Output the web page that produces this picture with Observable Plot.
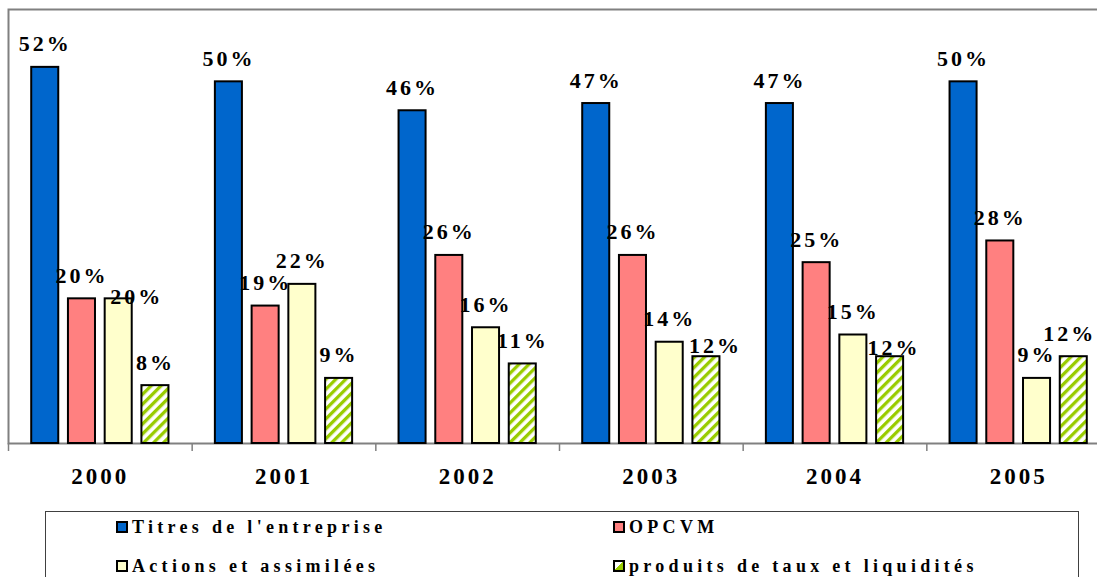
<!DOCTYPE html>
<html><head><meta charset="utf-8">
<script src="https://cdn.jsdelivr.net/npm/d3@7"></script>
<script src="https://cdn.jsdelivr.net/npm/@observablehq/plot@0.6"></script>
<style>
html,body{margin:0;padding:0;background:#fff;overflow:hidden;width:1097px;height:577px}
#chart{width:1097px;overflow:hidden}
#chart svg{display:block;max-width:none !important}
#chart svg text{letter-spacing:3px}
#legend{position:relative;margin-left:45px;margin-top:6px;width:1034px;height:80px;border:1px solid #404040;box-sizing:border-box;background:#fff}
.item{position:absolute;display:flex;align-items:center;height:20px;font-family:"Liberation Serif","Times New Roman",serif;font-weight:bold;font-size:18px;letter-spacing:4.3px;white-space:nowrap;color:#000}
.sw{width:12px;height:12px;box-sizing:border-box;border:2px solid #000;margin-right:4px;flex:none}
</style></head><body>
<div id="chart"></div>
<div id="legend"></div>
<script>
const years = ["2000", "2001", "2002", "2003", "2004", "2005"];
const seriesNames = ["Titres de l'entreprise", "OPCVM", "Actions et assimilées", "produits de taux et liquidités"];
const titres = [52, 50, 46, 47, 47, 50];
const opcvm = [20, 19, 26, 26, 25, 28];
const actions = [20, 22, 16, 14, 15, 9];
const produits = [8, 9, 11, 12, 12, 12];

const seriesValues = [titres, opcvm, actions, produits];
const colors = ["#0066CC", "#FF8080", "#FFFFCC", "url(#hatch)"];

// label nudges (pixels) for labels that the original moved to avoid collisions
const labelNudges = {
  "2000|Actions et assimilées": [18, 21],
  "2003|produits de taux et liquidités": [9, 12],
  "2004|produits de taux et liquidités": [4, 14],
  "2005|produits de taux et liquidités": [-4, 0]
};

const data = years.flatMap((y, i) => seriesNames.map((s, j) => ({year: y, series: s, value: seriesValues[j][i]})));

const W = 1110, H = 505, mL = 8, mR = 0, mT = 9, mB = 62;
const bw = (W - mL - mR) / years.length;
const sub = d3.scaleBand().domain(seriesNames).range([0, bw]).paddingInner(0.264).paddingOuter(0.632);

const font = "Liberation Serif, Times New Roman, serif";
const labelStyle = {fontSize: 22, fontWeight: "bold", fontFamily: font, fill: "#000"};

const defsMark = () => {
  const defs = d3.create("svg:defs");
  const p = defs.append("pattern").attr("id", "hatch").attr("patternUnits", "userSpaceOnUse")
    .attr("width", 7).attr("height", 7).attr("patternTransform", "rotate(45)");
  p.append("rect").attr("width", 7).attr("height", 7).attr("fill", "#ffffff");
  p.append("rect").attr("width", 3.3).attr("height", 7).attr("fill", "#99CC00");
  return defs.node();
};

const key = d => d.year + "|" + d.series;
const labelMarks = [];
seriesNames.forEach(s => {
  const baseDx = sub(s) + sub.bandwidth() / 2 - bw / 2;
  const rows = data.filter(d => d.series === s);
  labelMarks.push(Plot.text(rows.filter(d => !labelNudges[key(d)]), {
    x: "year", y: "value", text: d => d.value + "%", dx: baseDx, dy: -23, ...labelStyle
  }));
  rows.filter(d => labelNudges[key(d)]).forEach(d => {
    const [nx, ny] = labelNudges[key(d)];
    labelMarks.push(Plot.text([d], {
      x: "year", y: "value", text: d => d.value + "%", dx: baseDx + nx, dy: -23 + ny, ...labelStyle
    }));
  });
});

const chart = Plot.plot({
  width: W, height: H,
  marginLeft: mL, marginRight: mR, marginTop: mT, marginBottom: mB,
  style: {background: "#fff", overflow: "visible", maxWidth: "none"},
  x: {type: "band", domain: years, padding: 0, round: false},
  y: {domain: [0, 60], axis: null},
  marks: [
    defsMark,
    Plot.frame({stroke: "#808080", strokeWidth: 2}),
    ...seriesNames.map((s, j) => Plot.barY(data.filter(d => d.series === s), {
      x: "year", y: "value", fill: colors[j], stroke: "#000", strokeWidth: 2,
      insetLeft: sub(s), insetRight: bw - sub(s) - sub.bandwidth()
    })),
    ...labelMarks,
    Plot.axisX({tickSize: 8, tickFormat: () => "", label: null, dx: -bw / 2, stroke: "#808080", strokeWidth: 1.5}),
    Plot.text(years, {x: d => d, frameAnchor: "bottom", dy: 40, fontSize: 23, fontWeight: "bold", fontFamily: font, fill: "#000"})
  ]
});
document.getElementById("chart").appendChild(chart);

// legend
const legend = document.getElementById("legend");
const pos = [[70, 5], [567, 5], [70, 44], [567, 44]];
const swatchBg = ["#0066CC", "#FF8080", "#FFFFCC", "linear-gradient(135deg, #ffffff 48%, #99CC00 48%)"];
seriesNames.forEach((s, j) => {
  const it = document.createElement("div");
  it.className = "item";
  it.style.left = pos[j][0] + "px";
  it.style.top = pos[j][1] + "px";
  const sw = document.createElement("span");
  sw.className = "sw";
  sw.style.background = swatchBg[j];
  const t = document.createElement("span");
  t.textContent = s;
  it.appendChild(sw); it.appendChild(t);
  legend.appendChild(it);
});
</script>
</body></html>
